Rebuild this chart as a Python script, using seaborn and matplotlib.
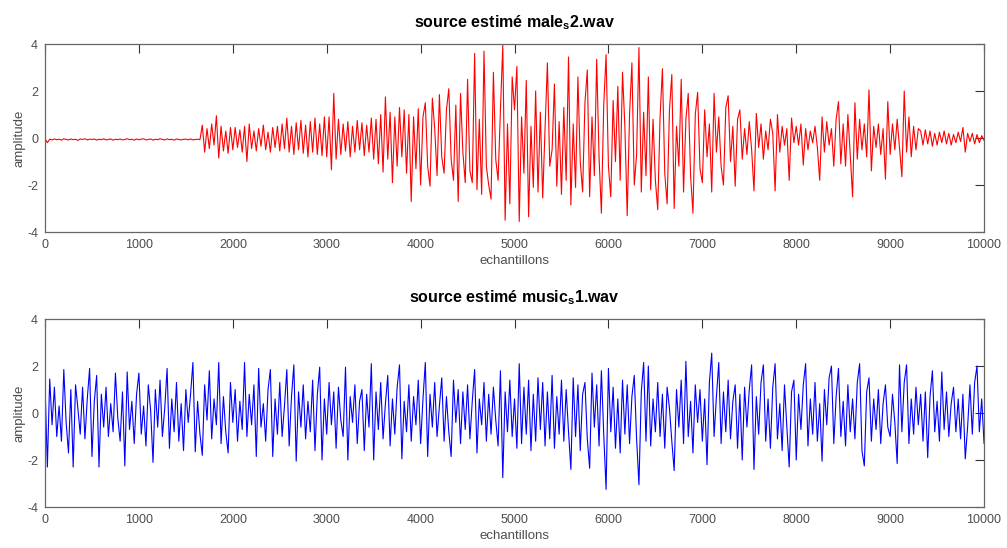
import numpy as np
import pandas as pd
import matplotlib
matplotlib.use("Agg")
import matplotlib.pyplot as plt
import seaborn as sns

# ---------------- data (one value every 25 samples) ----------------
step = 25
male_vals = [
    -0.02, -0.2, -0.05, -0.08, -0.04, -0.07, -0.05, -0.09, -0.03, -0.06, -0.08, -0.04, -0.07, -0.05, -0.1, -0.04, -0.06, -0.03, -0.08, -0.05,
    -0.06, -0.04, -0.09, -0.05, -0.07, -0.03, -0.08, -0.06, -0.04, -0.09, -0.05, -0.07, -0.04, -0.08, -0.06, -0.03, -0.07, -0.05, -0.09, -0.04,
    -0.07, -0.05, -0.03, -0.08, -0.06, -0.04, -0.09, -0.05, -0.07, -0.03, -0.06, -0.08, -0.04, -0.07, -0.05, -0.09, -0.04, -0.06, -0.08, -0.05,
    -0.05, -0.07, -0.04, -0.08, -0.06, -0.05, -0.07, 0.55, -0.6, 0.4, -0.45, 0.6, -0.3, 0.95, -0.85, 0.5, -0.55, 0.3, -0.65, 0.45,
    -0.5, 0.45, -0.4, 0.35, -0.6, 0.5, -1.0, 0.6, -0.45, 0.3, -0.55, 0.4, -0.35, 0.55, -0.5, 0.25, -0.6, 0.45, -0.4, 0.5,
    -0.55, 0.6, -0.45, 0.85, -0.6, 0.5, -0.7, 0.65, -0.5, 0.75, -0.65, 0.55, -0.8, 0.7, -0.6, 0.85, -0.7, 0.6, -0.75, 0.9,
    -0.8, 0.9, -1.35, 1.9, -0.9, 0.8, -0.7, 0.6, -0.55, 0.7, -0.8, 0.5, -0.6, 0.75, -0.5, 0.65, -0.75, 0.55, -0.6, 0.85,
    -0.9, 0.8, -1.1, 1.0, -1.45, 1.75, -0.9, 1.1, -1.9, 0.9, -1.2, 1.3, -0.8, 1.2, -1.5, 1.0, -2.7, 0.9, -1.3, 1.25,
    -2.0, 0.9, 1.5, -1.2, -2.05, 1.7, 0.4, -1.6, 1.85, -0.8, -1.5, 1.2, 2.1, -0.9, -1.8, 1.4, -2.7, 1.9, -0.6, -1.9,
    2.5, -1.4, -1.9, 3.6, -2.2, 0.8, -2.4, 3.7, -1.2, -2.0, -2.6, 2.8, -0.9, -1.8, 1.2, 3.95, -3.5, 0.6, -2.8, 2.6,
    1.2, 3.05, -3.55, 0.9, -1.5, 2.45, -3.35, 0.5, -2.1, 2.0, -2.3, 1.1, -2.55, 0.4, 3.2, -1.2, -0.5, 2.3, -2.05, 0.7,
    -2.4, 1.3, -1.8, 3.45, -2.85, 0.6, -2.1, 2.6, -1.0, -2.3, 1.5, 2.9, -2.5, 0.9, -1.6, 3.35, -0.8, -3.2, 1.4, 3.55,
    -1.2, -2.5, 1.6, -1.0, 2.2, -1.8, 2.8, 0.5, -3.3, 1.0, 3.2, -2.0, -0.7, 3.85, -2.3, 1.1, -1.6, 2.6, -2.2, 0.8,
    -1.8, -3.05, 0.9, 2.95, -1.5, -2.8, 1.2, 2.7, -3.0, 0.5, -1.2, 2.5, -2.3, 0.8, 1.9, -1.6, -3.2, 1.0, 1.95, -1.3,
    -1.9, 1.2, -0.8, 0.6, -2.3, 1.9, -0.6, 0.9, -1.2, -2.0, 1.3, 1.8, -1.0, 0.5, -2.05, 0.8, 1.2, -0.9, 0.4, -0.7,
    0.7, -0.5, -2.25, 1.05, -0.4, 0.6, -0.9, 0.3, -0.5, 0.8, 0.2, -2.25, 1.0, -0.6, 0.5, -0.3, 0.4, -1.8, 0.85, -0.2,
    0.5, -0.3, 0.6, -1.15, 0.4, -0.5, 0.3, -0.2, 0.5, -0.4, -1.8, 0.9, -0.6, 0.7, -0.3, 0.4, -1.2, 0.8, 1.55, -1.1,
    0.6, -1.2, 1.0, -0.7, -2.5, 1.5, -0.9, 0.8, -0.5, 0.6, -0.8, 2.05, -1.4, 0.5, -0.4, 0.6, -0.7, 0.4, -1.75, 1.55,
    -0.7, 0.6, -0.5, 0.8, -0.4, -1.65, 2.0, -0.6, 0.9, -0.8, 0.5, -0.5, 0.4, 0.3, -0.3, 0.35, -0.25, 0.3, -0.35, 0.2,
    -0.3, 0.25, -0.2, 0.3, -0.25, 0.2, -0.3, 0.15, -0.2, 0.25, -0.15, 0.45, -0.6, 0.2, -0.15, 0.2, -0.25, 0.15, -0.2, 0.1,
    -0.1,
]
music_vals = [
    1.25, -2.3, 1.45, -0.5, 1.1, -1.0, 0.3, -1.2, 1.85, -0.4, -1.7, 1.0, -2.3, 1.2, 0.2, -0.9, 1.1, -1.1, 0.6, 1.9,
    -1.85, 0.5, 1.6, -2.3, 0.8, -0.6, 1.1, -1.0, 0.4, -0.8, 1.7, -0.2, -1.2, 0.9, -2.25, 1.75, -0.7, 0.5, -1.3, 0.8,
    1.7, -0.9, 0.3, -1.4, 1.2, 0.1, -2.1, 1.0, -0.6, 1.4, -1.0, 0.2, 1.9, -1.5, 0.6, -0.8, 1.3, -1.2, 0.4, -1.6,
    1.0, -0.4, 0.8, 2.15, -1.65, 0.5, -0.9, -1.8, 1.2, -0.3, 1.8, -1.1, 0.6, -0.5, 2.15, -1.3, 0.7, -0.8, -1.7, 1.3,
    -0.4, 1.0, -1.2, 0.5, -0.7, 2.15, -1.0, 0.8, -0.5, 1.2, -1.85, 1.9, -0.6, 0.4, -1.2, 1.0, 1.85, -1.85, 0.6, -0.9,
    1.3, -1.0, 0.3, 1.85, -1.4, 0.7, 2.05, -2.05, 0.9, -0.6, 1.2, -1.1, 0.5, -0.8, 1.4, -1.6, 0.8, 1.95, -2.0, 0.6,
    -0.9, 1.3, -0.5, 0.9, -1.5, 1.1, -0.3, -1.0, 1.95, -2.0, 0.7, -0.4, 1.2, -1.3, 0.5, 1.0, -1.6, 0.8, -0.6, 2.1,
    -2.0, 0.9, -0.7, 1.3, -1.1, 0.4, 1.6, -1.4, 0.6, -0.9, 1.1, 2.05, -1.95, 0.5, -0.8, 1.2, -1.2, 0.7, -0.5, 1.4,
    -1.3, 0.6, 2.15, -1.85, 0.8, -0.6, 1.3, -1.0, 0.3, 1.5, -1.2, 0.7, -0.8, -1.85, 1.4, -0.4, 1.0, -1.3, 0.9, -0.7,
    1.2, -1.1, 0.5, 1.85, -1.7, 0.6, -0.5, 1.3, -1.2, 0.8, -0.9, 1.1, -0.3, -1.4, 1.8, -2.75, 0.9, -0.8, 1.4, -1.0,
    0.6, -1.5, 2.1, -1.3, 1.1, -0.9, 1.4, -1.6, 0.8, -1.2, 1.5, -0.7, 1.3, -1.4, 0.9, -1.1, 1.6, -1.5, 0.7, -0.9,
    1.4, -1.2, 1.0, -0.8, -2.4, 1.5, -1.0, 1.2, -1.6, 0.8, 1.3, -1.1, -2.35, 1.7, -0.6, 1.2, -1.4, 1.8, -0.9, -3.25,
    1.9, -0.8, 1.1, -1.5, 0.6, -1.7, 1.4, -0.9, 1.2, -1.3, 0.7, 1.6, -1.1, -3.05, 0.9, 2.15, -1.2, 2.0, -1.4, 0.6,
    -0.8, 1.3, -1.0, 0.8, -1.5, 1.1, 0.2, -1.2, -2.45, 1.0, -0.6, 1.4, -1.3, 2.2, -1.0, 0.5, -1.7, 1.2, -0.4, 1.0,
    -1.2, 0.6, -2.2, 1.3, 2.55, -1.0, 0.7, 2.15, -1.3, 0.9, -0.8, 1.4, -1.1, 0.5, 1.2, -1.5, 0.8, -2.0, 1.1, -0.6,
    1.0, 2.05, -2.4, 0.7, -0.9, 1.3, 2.05, -1.2, 0.6, -1.5, 1.1, 2.1, -1.1, 0.4, -1.6, 1.2, -0.6, -2.3, 0.9, 1.4,
    -2.0, 0.8, -0.7, 1.2, 2.1, -1.4, 0.6, -0.9, 1.3, -1.2, 0.4, -2.05, 1.0, -0.5, 1.5, 2.0, -1.3, 0.7, 1.9, -1.0,
    0.5, -1.4, 1.2, -0.8, 0.6, -1.1, 1.3, 2.1, -1.6, -2.25, 0.9, 1.5, -1.2, 0.6, -0.7, 1.0, -1.3, 0.4, 1.2, -0.6,
    -1.0, 0.8, -0.4, -2.15, 2.05, -0.8, 1.3, 2.05, -1.3, 0.6, -0.9, 1.1, -0.5, 0.8, -1.2, 0.9, -1.9, 0.7, 1.8, -0.8,
    0.5, -1.2, 1.75, -0.7, 0.9, -1.0, 0.4, 1.1, -0.8, 0.6, -1.1, 0.8, -1.95, -0.6, 1.2, -0.9, 1.3, 2.0, -0.8, 0.6,
    -1.3,
]
samples = np.arange(len(male_vals)) * step

titles = [r"source estimé male$_\mathbf{s}$2.wav", r"source estimé music$_\mathbf{s}$1.wav"]
series = [male_vals, music_vals]
colors = ["#ff0000", "#0000ff"]
x_ticks = list(range(0, 10001, 1000))
y_ticks = [-4, -2, 0, 2, 4]
x_label = "echantillons"
y_label = "amplitude"

# ---------------- style ----------------
sns.set_style("white")
plt.rcParams["font.family"] = ["Liberation Sans", "DejaVu Sans"]
plt.rcParams["axes.unicode_minus"] = False
plt.rcParams["mathtext.fontset"] = "custom"
plt.rcParams["mathtext.rm"] = "Liberation Sans"
plt.rcParams["mathtext.bf"] = "Liberation Sans:bold"
plt.rcParams["mathtext.it"] = "Liberation Sans:italic"

grey = "#4d4d4d"
fig = plt.figure(figsize=(10.07, 5.48), dpi=100)
positions = [
    [0.0447, 0.5766, 0.9325, 0.343],
    [0.0447, 0.0748, 0.9325, 0.343],
]

for pos, vals, col, title in zip(positions, series, colors, titles):
    ax = fig.add_axes(pos)
    df = pd.DataFrame({"x": samples, "y": vals})
    sns.lineplot(data=df, x="x", y="y", ax=ax, color=col, linewidth=0.8,
                 estimator=None, sort=False)
    ax.set_xlim(0, 10000)
    ax.set_ylim(-4, 4)
    ax.set_xticks(x_ticks)
    ax.set_yticks(y_ticks)
    ax.tick_params(direction="in", length=6.5, width=0.8, color="#333333",
                   labelcolor=grey, labelsize=9, top=True, right=True,
                   labeltop=False, labelright=False, pad=5)
    for s in ax.spines.values():
        s.set_visible(True)
        s.set_color("#666666")
        s.set_linewidth(0.9)
    ax.set_xlabel(x_label, color=grey, fontsize=9.5, labelpad=3)
    ax.set_ylabel(y_label, color=grey, fontsize=9.5, labelpad=1)
    ax.set_title(title, fontsize=11.5, fontweight="bold", color="black", pad=12)

fig.savefig("out.png", dpi=100)
